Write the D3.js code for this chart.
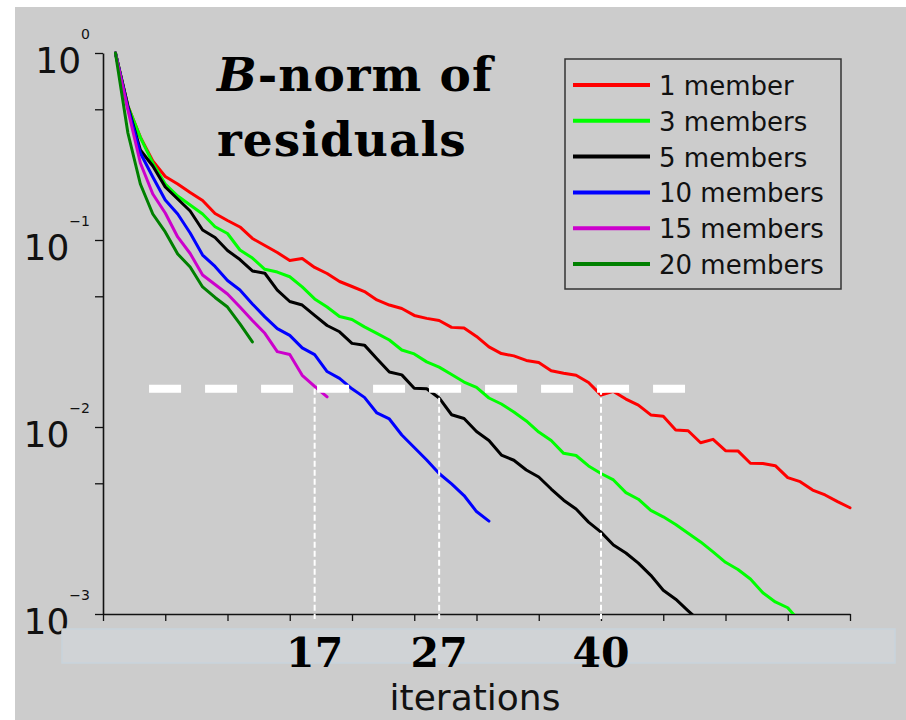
<!DOCTYPE html>
<html>
<head>
<meta charset="utf-8">
<script src="https://cdn.jsdelivr.net/npm/d3@7"></script>
<style>
  body { margin: 0; background: #ffffff; }
  svg { display: block; }
</style>
</head>
<body>
<svg id="chart" width="906" height="720"></svg>
<script>
// Residual B-norm per iteration (iteration 1, 2, 3, ...) for each ensemble size
const members1 = [1.0, 0.521, 0.355, 0.2645, 0.2186, 0.1993, 0.1795, 0.1627, 0.1386, 0.1272,
  0.1174, 0.1019, 0.0935, 0.0857, 0.0777, 0.0796, 0.0713, 0.0662, 0.0600, 0.0564,
  0.0530, 0.0478, 0.0449, 0.0430, 0.0395, 0.0381, 0.0371, 0.0341, 0.0338, 0.0305,
  0.0268, 0.0247, 0.0240, 0.0227, 0.0221, 0.0200, 0.0194, 0.0189, 0.0173, 0.0148,
  0.0155, 0.0141, 0.0131, 0.0116, 0.0114, 0.00964, 0.00955, 0.00824, 0.00859, 0.00747,
  0.00745, 0.00640, 0.00638, 0.00621, 0.00536, 0.00510, 0.00460, 0.00433, 0.00399, 0.00370];
const members3 = [1.0, 0.520, 0.354, 0.2580, 0.1993, 0.1719, 0.1539, 0.1377, 0.1178, 0.1083,
  0.0884, 0.0801, 0.0697, 0.0674, 0.0636, 0.0561, 0.0484, 0.0438, 0.0390, 0.0376,
  0.0343, 0.0317, 0.0292, 0.0258, 0.0246, 0.0223, 0.0209, 0.0191, 0.0174, 0.01627,
  0.01429, 0.01327, 0.01203, 0.01077, 0.00940, 0.00847, 0.00723, 0.00704, 0.00619, 0.00564,
  0.00521, 0.00446, 0.00411, 0.00358, 0.00331, 0.00301, 0.00270, 0.00243, 0.00215, 0.00189,
  0.00173, 0.00154, 0.00130, 0.00116, 0.00108, 0.000906];
const members5 = [1.0, 0.520, 0.3030, 0.2487, 0.1921, 0.1657, 0.1429, 0.1131, 0.1031, 0.0879,
  0.0786, 0.0683, 0.0664, 0.0540, 0.0469, 0.0449, 0.0395, 0.0349, 0.0323, 0.0280,
  0.0274, 0.0232, 0.0197, 0.0190, 0.0161, 0.0160, 0.0143, 0.01163, 0.01110, 0.00946,
  0.00847, 0.00708, 0.00664, 0.00589, 0.00540, 0.00466, 0.00406, 0.00364, 0.00310, 0.00274,
  0.00234, 0.00212, 0.00187, 0.00161, 0.00134, 0.00120, 0.00104, 0.000906];
const members10 = [1.0, 0.508, 0.2919, 0.2173, 0.1637, 0.1377, 0.1090, 0.0831, 0.0722, 0.0607,
  0.0540, 0.0455, 0.0388, 0.0336, 0.0309, 0.0265, 0.0244, 0.0198, 0.0182, 0.0160,
  0.0144, 0.01189, 0.01104, 0.00906, 0.00777, 0.00666, 0.00564, 0.00496, 0.00430, 0.00353,
  0.00314];
const members15 = [1.0, 0.4956, 0.2581, 0.1762, 0.1394, 0.1038, 0.0847, 0.0650, 0.0578, 0.0514,
  0.0438, 0.0371, 0.0317, 0.0253, 0.0244, 0.0189, 0.0165, 0.0145];
const members20 = [1.0, 0.3735, 0.1993, 0.1377, 0.1104, 0.0842, 0.0717, 0.0561, 0.0493, 0.0438,
  0.0356, 0.0285];

const seriesLabels = ["1 member", "3 members", "5 members", "10 members", "15 members", "20 members"];
const seriesValues = [members1, members3, members5, members10, members15, members20];
const seriesColors = ["#ff0000", "#00ff00", "#000000", "#0000ff", "#cc00cc", "#008000"];

// Tolerance line and the iterations at which it is reached
const tolerance = 0.016;
const toleranceSpan = [3.7, 46.75];
const markedIterations = [17, 27, 40];

// Axis ticks
const xTicks = d3.range(0, 61, 5);
const yMajorTicks = [1, 0.1, 0.01, 0.001];
const yExponents = ["0", "\u22121", "\u22122", "\u22123"];
const yMinorTicks = [0.5, 0.05, 0.005];

const svg = d3.select("#chart");

const x = d3.scaleLinear().domain([0, 60]).range([103, 850]);
const y = d3.scaleLog().domain([0.001, 1]).range([614, 53]);

// Gray panel
svg.append("rect").attr("x", 15).attr("y", 7).attr("width", 891).attr("height", 713)
  .attr("fill", "#cccccc");

// Clip the curves to the plotting area
svg.append("defs").append("clipPath").attr("id", "plotClip")
  .append("rect").attr("x", 100).attr("y", 40).attr("width", 760).attr("height", 574);

// Axes
const xAxis = svg.append("g").attr("transform", `translate(0,${y(0.001)})`)
  .call(d3.axisBottom(x).tickValues(xTicks).tickFormat("").tickSize(7).tickSizeOuter(0));
const yAxis = svg.append("g").attr("transform", `translate(${x(0)},0)`)
  .call(d3.axisLeft(y).tickValues(yMajorTicks.concat(yMinorTicks)).tickFormat("").tickSize(8).tickSizeOuter(0));
[xAxis, yAxis].forEach(g => {
  g.select(".domain").attr("stroke", "#111").attr("stroke-width", 1.6);
  g.selectAll(".tick line").attr("stroke", "#111").attr("stroke-width", 1.3);
});

// Decade labels 10^k
const yLabels = svg.append("g").attr("font-family", "DejaVu Sans").attr("fill", "#111");
yMajorTicks.forEach((v, i) => {
  const t = yLabels.append("text").attr("x", 90).attr("y", y(v) + 19.5).attr("text-anchor", "end");
  t.append("tspan").attr("font-size", 36).text("10");
  t.append("tspan").attr("font-size", 14).attr("dy", -33.5).text(yExponents[i]);
});

// Curves
const line = d3.line()
  .x((d, i) => x(i + 1))
  .y(d => y(d));
const curves = svg.append("g").attr("clip-path", "url(#plotClip)");
seriesValues.forEach((vals, k) => {
  curves.append("path").datum(vals)
    .attr("d", line)
    .attr("fill", "none")
    .attr("stroke", seriesColors[k])
    .attr("stroke-width", 3)
    .attr("stroke-linejoin", "round")
    .attr("stroke-linecap", "round");
});

// Tolerance line
svg.append("line")
  .attr("x1", x(toleranceSpan[0])).attr("x2", x(toleranceSpan[1]))
  .attr("y1", y(tolerance)).attr("y2", y(tolerance))
  .attr("stroke", "#ffffff").attr("stroke-width", 8).attr("stroke-dasharray", "32,24");

// Drop lines at the marked iterations
svg.append("g").selectAll("line").data(markedIterations).join("line")
  .attr("x1", d => x(d)).attr("x2", d => x(d))
  .attr("y1", y(tolerance)).attr("y2", y(0.001) + 5)
  .attr("stroke", "#ffffff").attr("stroke-width", 2).attr("stroke-dasharray", "6,3");

// Label band under the axis
svg.append("rect").attr("x", 62).attr("y", 629).attr("width", 833).attr("height", 34)
  .attr("fill", "#d0d3d6").attr("stroke", "#c8d3dc").attr("stroke-width", 1.5);

svg.append("g").selectAll("text").data(markedIterations).join("text")
  .attr("x", d => x(d)).attr("y", 667)
  .attr("text-anchor", "middle")
  .attr("font-family", "DejaVu Serif").attr("font-weight", "bold").attr("font-size", 41)
  .attr("fill", "#000")
  .text(d => d);

// Axis title
svg.append("text").attr("x", 475).attr("y", 710).attr("text-anchor", "middle")
  .attr("font-family", "DejaVu Sans").attr("font-size", 36).attr("fill", "#111")
  .text("iterations");

// Chart title
const title = svg.append("text").attr("font-family", "DejaVu Serif").attr("font-weight", "bold")
  .attr("font-size", 47).attr("letter-spacing", 1).attr("fill", "#000");
const t1 = title.append("tspan").attr("x", 217).attr("y", 91);
t1.append("tspan").attr("font-style", "italic").text("B");
t1.append("tspan").text("-norm of");
title.append("tspan").attr("x", 217).attr("y", 156).text("residuals");

// Legend
const legend = svg.append("g");
legend.append("rect").attr("x", 565).attr("y", 59).attr("width", 276).attr("height", 230)
  .attr("fill", "none").attr("stroke", "#333").attr("stroke-width", 1.5);
seriesLabels.forEach((name, k) => {
  const ly = 85 + k * 35.8;
  legend.append("line").attr("x1", 573).attr("x2", 650).attr("y1", ly).attr("y2", ly)
    .attr("stroke", seriesColors[k]).attr("stroke-width", 4);
  legend.append("text").attr("x", 659).attr("y", ly + 10)
    .attr("font-family", "DejaVu Sans").attr("font-size", 26).attr("fill", "#111")
    .text(name);
});
</script>
</body>
</html>
